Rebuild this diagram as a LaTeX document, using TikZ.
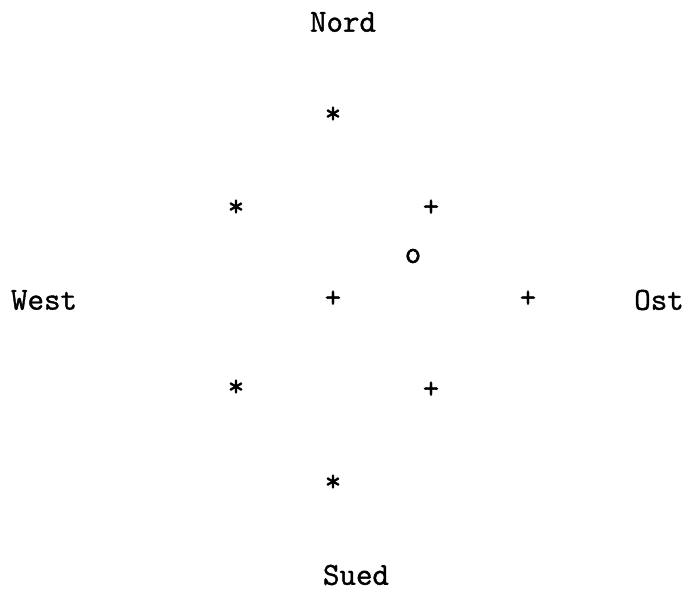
\documentclass[tikz,border=0pt]{standalone}
\usepackage{fontspec}
\newfontfamily\plotfont{Latin Modern Mono}[FakeBold=1.2]
\begin{document}
\begin{tikzpicture}[x=1pt,y=-1pt,
  lbl/.style={inner sep=0pt,font=\fontsize{32}{38}\selectfont\plotfont},
  mk/.style={inner sep=0pt,font=\fontsize{32}{38}\selectfont\plotfont}]
\useasboundingbox (0,0) rectangle (683,591);
\node[lbl] (nord) at (343,22) {Nord};
\node[lbl] (west) at (44,300) {West};
\node[lbl] (ost) at (659,300) {Ost};
\node[lbl] (sued) at (356,575) {Sued};
\node[mk] (s1) at (333,115) {*};
\node[mk] (s2) at (236,208) {*};
\node[mk] (p1) at (431,208) {+};
\node[mk] (o1) at (413,256) {o};
\node[mk] (p2) at (333,299) {+};
\node[mk] (p3) at (528,299) {+};
\node[mk] (s3) at (236,388) {*};
\node[mk] (p4) at (431,390) {+};
\node[mk] (s4) at (333,483) {*};
\end{tikzpicture}
\end{document}
